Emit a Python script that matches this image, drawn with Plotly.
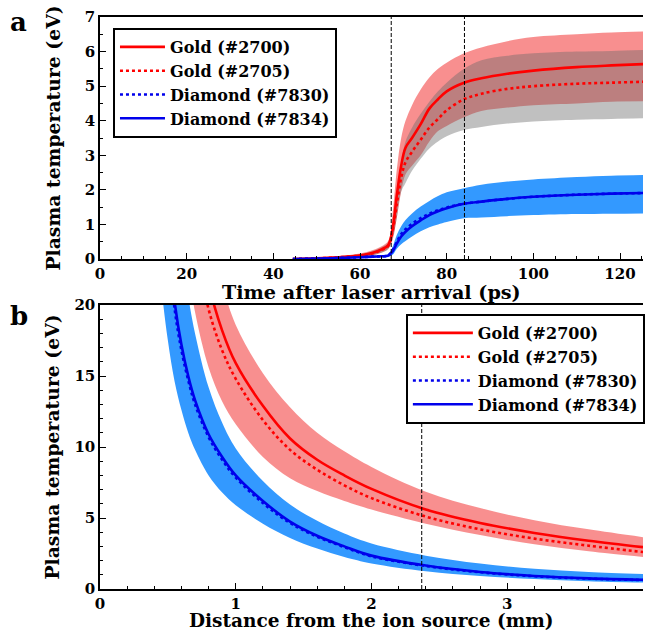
import plotly.graph_objects as go

# ---------------- Panel a: temperature vs time ----------------
t_ps = [44.5, 50, 55, 60, 63, 65, 66.5, 67.5, 68.5, 69.5, 70.5, 72, 74, 76, 78, 80, 84, 88, 94, 100, 110, 118, 126]
gold_2700 = [0.0, 0.02, 0.05, 0.10, 0.18, 0.28, 0.40, 0.85, 1.85, 2.70, 3.22, 3.50, 3.90, 4.35, 4.62, 4.85, 5.10, 5.23, 5.36, 5.45, 5.55, 5.60, 5.64]
gold_2700_hi = [0.02, 0.05, 0.09, 0.16, 0.26, 0.37, 0.52, 1.30, 2.60, 3.50, 4.00, 4.45, 4.90, 5.25, 5.50, 5.68, 5.95, 6.12, 6.30, 6.42, 6.50, 6.55, 6.58]
gold_2700_lo = [0.0, 0.0, 0.02, 0.05, 0.11, 0.19, 0.30, 0.55, 1.20, 1.95, 2.45, 2.70, 3.00, 3.40, 3.70, 3.85, 4.10, 4.28, 4.38, 4.45, 4.50, 4.55, 4.56]
gold_2705 = [0.0, 0.02, 0.05, 0.10, 0.17, 0.26, 0.38, 0.80, 1.60, 2.35, 2.80, 3.10, 3.45, 3.80, 4.05, 4.30, 4.62, 4.78, 4.92, 5.00, 5.07, 5.10, 5.13]
gold_2705_hi = [0.01, 0.04, 0.08, 0.14, 0.23, 0.34, 0.48, 1.00, 2.00, 2.80, 3.40, 3.80, 4.20, 4.55, 4.85, 5.10, 5.50, 5.75, 5.88, 5.95, 6.00, 6.02, 6.05]
gold_2705_lo = [0.0, 0.0, 0.02, 0.06, 0.11, 0.18, 0.28, 0.60, 1.20, 1.95, 2.20, 2.55, 2.90, 3.20, 3.40, 3.55, 3.73, 3.82, 3.92, 3.98, 4.03, 4.05, 4.07]
diam_7830 = [0.0, 0.01, 0.03, 0.05, 0.07, 0.08, 0.10, 0.25, 0.50, 0.72, 0.86, 1.02, 1.18, 1.31, 1.41, 1.49, 1.60, 1.66, 1.74, 1.80, 1.86, 1.89, 1.91]
diam_7834 = [0.0, 0.01, 0.03, 0.05, 0.07, 0.08, 0.10, 0.22, 0.45, 0.65, 0.79, 0.95, 1.12, 1.27, 1.38, 1.47, 1.60, 1.66, 1.74, 1.80, 1.86, 1.89, 1.91]
diam_hi = [0.01, 0.02, 0.04, 0.07, 0.09, 0.11, 0.14, 0.35, 0.70, 0.95, 1.13, 1.32, 1.52, 1.68, 1.82, 1.93, 2.05, 2.15, 2.24, 2.30, 2.37, 2.41, 2.43]
diam_lo = [0.0, 0.0, 0.02, 0.03, 0.05, 0.05, 0.06, 0.12, 0.30, 0.43, 0.52, 0.65, 0.80, 0.92, 1.00, 1.07, 1.18, 1.20, 1.24, 1.27, 1.30, 1.31, 1.32]
markers_a = [67.2, 84.1]

# ---------------- Panel b: temperature vs distance ----------------
d_mm = [0.4, 0.45, 0.5, 0.55, 0.6, 0.65, 0.7, 0.8, 0.9, 1.0, 1.2, 1.4, 1.6, 1.8, 2.0, 2.4, 2.8, 3.2, 3.6, 4.0]
b_gold_2700 = [75, 60, 50, 43, 36, 31, 27, 21.5, 18.2, 15.9, 12.9, 10.6, 9.1, 8.0, 7.05, 5.6, 4.65, 3.95, 3.4, 2.95]
b_gold_2705 = [68, 55, 45, 38, 32, 28, 24.5, 19.7, 16.8, 14.8, 11.9, 9.8, 8.4, 7.3, 6.4, 5.1, 4.2, 3.55, 3.05, 2.6]
b_gold_hi = [90, 75, 62, 52, 44, 37, 32, 25.5, 21.5, 18.6, 15.2, 12.8, 11.0, 9.7, 8.6, 6.85, 5.7, 4.85, 4.2, 3.65]
b_gold_lo = [55, 44, 36, 30.5, 26, 22.5, 19.5, 15.6, 13.2, 11.6, 9.3, 7.8, 6.9, 6.2, 5.6, 4.6, 3.8, 3.15, 2.65, 2.25]
b_diam_7830 = [39, 30, 24.5, 19.7, 16.8, 14.7, 13.0, 10.7, 9.1, 7.85, 6.05, 4.65, 3.68, 2.95, 2.3, 1.62, 1.18, 0.9, 0.73, 0.63]
b_diam_7834 = [40, 31, 25, 20.2, 17.2, 15.0, 13.3, 10.9, 9.3, 8.0, 6.2, 4.75, 3.75, 3.0, 2.35, 1.65, 1.2, 0.92, 0.75, 0.65]
b_diam_hi = [55, 45, 37, 30, 24, 20.6, 18.0, 14.2, 11.7, 9.9, 7.6, 5.95, 4.8, 3.9, 3.2, 2.35, 1.8, 1.42, 1.2, 1.05]
b_diam_lo = [28, 21.5, 17.5, 14.6, 12.6, 11.0, 9.8, 8.0, 6.8, 5.9, 4.6, 3.6, 2.85, 2.25, 1.8, 1.25, 0.92, 0.7, 0.55, 0.45]
markers_b = [2.37]

labels = ["Gold (#2700)", "Gold (#2705)", "Diamond (#7830)", "Diamond (#7834)"]

RED = "rgb(255,0,0)"
BLUE = "rgb(0,0,235)"
PINK = "rgba(240,20,20,0.48)"
GREY = "rgba(105,105,105,0.42)"
SKY = "rgb(51,153,255)"
FONT = "DejaVu Serif"

fig = go.Figure()


def band(x, hi, lo, color, xa, ya):
    fig.add_trace(go.Scatter(x=x, y=hi, mode="lines", line=dict(width=0, shape="spline"),
                             showlegend=False, hoverinfo="skip", xaxis=xa, yaxis=ya))
    fig.add_trace(go.Scatter(x=x, y=lo, mode="lines", line=dict(width=0, shape="spline"),
                             fill="tonexty", fillcolor=color, showlegend=False,
                             hoverinfo="skip", xaxis=xa, yaxis=ya))


def curve(x, y, name, color, dash, xa, ya, leg, grp):
    fig.add_trace(go.Scatter(x=x, y=y, mode="lines", name=name, legendgroup=grp,
                             line=dict(color=color, width=2.6, dash=dash, shape="spline"),
                             xaxis=xa, yaxis=ya, legend=leg))


# panel a
band(t_ps, gold_2700_hi, gold_2700_lo, PINK, "x2", "y2")
band(t_ps, gold_2705_hi, gold_2705_lo, GREY, "x2", "y2")
band(t_ps, diam_hi, diam_lo, SKY, "x2", "y2")
curve(t_ps, gold_2700, labels[0], RED, "solid", "x2", "y2", "legend", "a1")
curve(t_ps, gold_2705, labels[1], RED, "dot", "x2", "y2", "legend", "a2")
curve(t_ps, diam_7830, labels[2], BLUE, "dot", "x2", "y2", "legend", "a3")
curve(t_ps, diam_7834, labels[3], BLUE, "solid", "x2", "y2", "legend", "a4")

# panel b
band(d_mm, b_gold_hi, b_gold_lo, PINK, "x", "y")
band(d_mm, b_diam_hi, b_diam_lo, SKY, "x", "y")
curve(d_mm, b_gold_2700, labels[0], RED, "solid", "x", "y", "legend2", "b1")
curve(d_mm, b_gold_2705, labels[1], RED, "dot", "x", "y", "legend2", "b2")
curve(d_mm, b_diam_7830, labels[2], BLUE, "dot", "x", "y", "legend2", "b3")
curve(d_mm, b_diam_7834, labels[3], BLUE, "solid", "x", "y", "legend2", "b4")

for xv in markers_a:
    fig.add_shape(type="line", xref="x2", yref="y2 domain", x0=xv, x1=xv, y0=0, y1=1,
                  line=dict(color="black", width=1, dash="4px,2px"))
for xv in markers_b:
    fig.add_shape(type="line", xref="x", yref="y domain", x0=xv, x1=xv, y0=0, y1=1,
                  line=dict(color="black", width=1, dash="4px,2px"))

tickfont = dict(family=FONT, size=15, color="black", weight="bold")
ytitlefont = dict(family=FONT, size=18.8, color="black", weight="bold")
xtitlefont_a = dict(family=FONT, size=19.2, color="black", weight="bold")
xtitlefont_b = dict(family=FONT, size=18.5, color="black", weight="bold")
legfont = dict(family=FONT, size=16, color="black", weight="bold")
panelfont = dict(family=FONT, size=26, color="black", weight="bold")
axis_common = dict(showline=True, linecolor="black", linewidth=1.5, ticks="inside",
                   ticklen=6, tickwidth=1, tickcolor="black", showgrid=False,
                   zeroline=False, tickfont=tickfont)

fig.update_layout(
    width=645, height=631,
    margin=dict(l=100, r=0, t=17, b=42),
    paper_bgcolor="white", plot_bgcolor="white",
    showlegend=True,
    xaxis=dict(domain=[0, 1], range=[0, 4], anchor="y", dtick=1, mirror=True,
               minor=dict(ticks="inside", dtick=0.2, ticklen=3, tickcolor="black"),
               **axis_common),
    yaxis=dict(domain=[0, 0.4965], range=[0, 20], anchor="x", dtick=5,
               minor=dict(ticks="inside", dtick=1, ticklen=3, tickcolor="black"),
               title=dict(text="Plasma temperature (eV)", font=ytitlefont, standoff=10),
               **axis_common),
    xaxis2=dict(domain=[0, 1], range=[0, 125.3], anchor="y2", dtick=20, mirror=True,
                minor=dict(ticks="inside", dtick=5, ticklen=3, tickcolor="black"),
                **axis_common),
    yaxis2=dict(domain=[0.5769, 1], range=[0, 7], anchor="x2", dtick=1,
                minor=dict(ticks="inside", dtick=0.5, ticklen=3, tickcolor="black"),
                title=dict(text="Plasma temperature (eV)", font=ytitlefont, standoff=19),
                **axis_common),
    legend=dict(x=0.0239, y=0.9808, xanchor="left", yanchor="top", bgcolor="white",
                bordercolor="black", borderwidth=2, tracegroupgap=2, itemwidth=45,
                traceorder="normal", font=legfont),
    legend2=dict(x=0.5633, y=0.4808, xanchor="left", yanchor="top", bgcolor="white",
                 bordercolor="black", borderwidth=2, tracegroupgap=2, itemwidth=60,
                 traceorder="normal", font=legfont),
    annotations=[
        dict(text="a", xref="paper", yref="paper", x=-0.150, y=0.991, showarrow=False,
             xanchor="center", yanchor="middle", font=panelfont),
        dict(text="b", xref="paper", yref="paper", x=-0.150, y=0.477, showarrow=False,
             xanchor="center", yanchor="middle", font=panelfont),
        dict(text="Time after laser arrival (ps)", xref="paper", yref="paper", x=0.5, y=0.5175,
             showarrow=False, xanchor="center", yanchor="middle", font=xtitlefont_a),
        dict(text="Distance from the ion source (mm)", xref="paper", yref="paper", x=0.5, y=-0.0542,
             showarrow=False, xanchor="center", yanchor="middle", font=xtitlefont_b),
    ],
)

fig.write_html("out.html", config={"displayModeBar": False},
               post_script="document.body.style.margin='0px';document.body.style.overflow='hidden';")
